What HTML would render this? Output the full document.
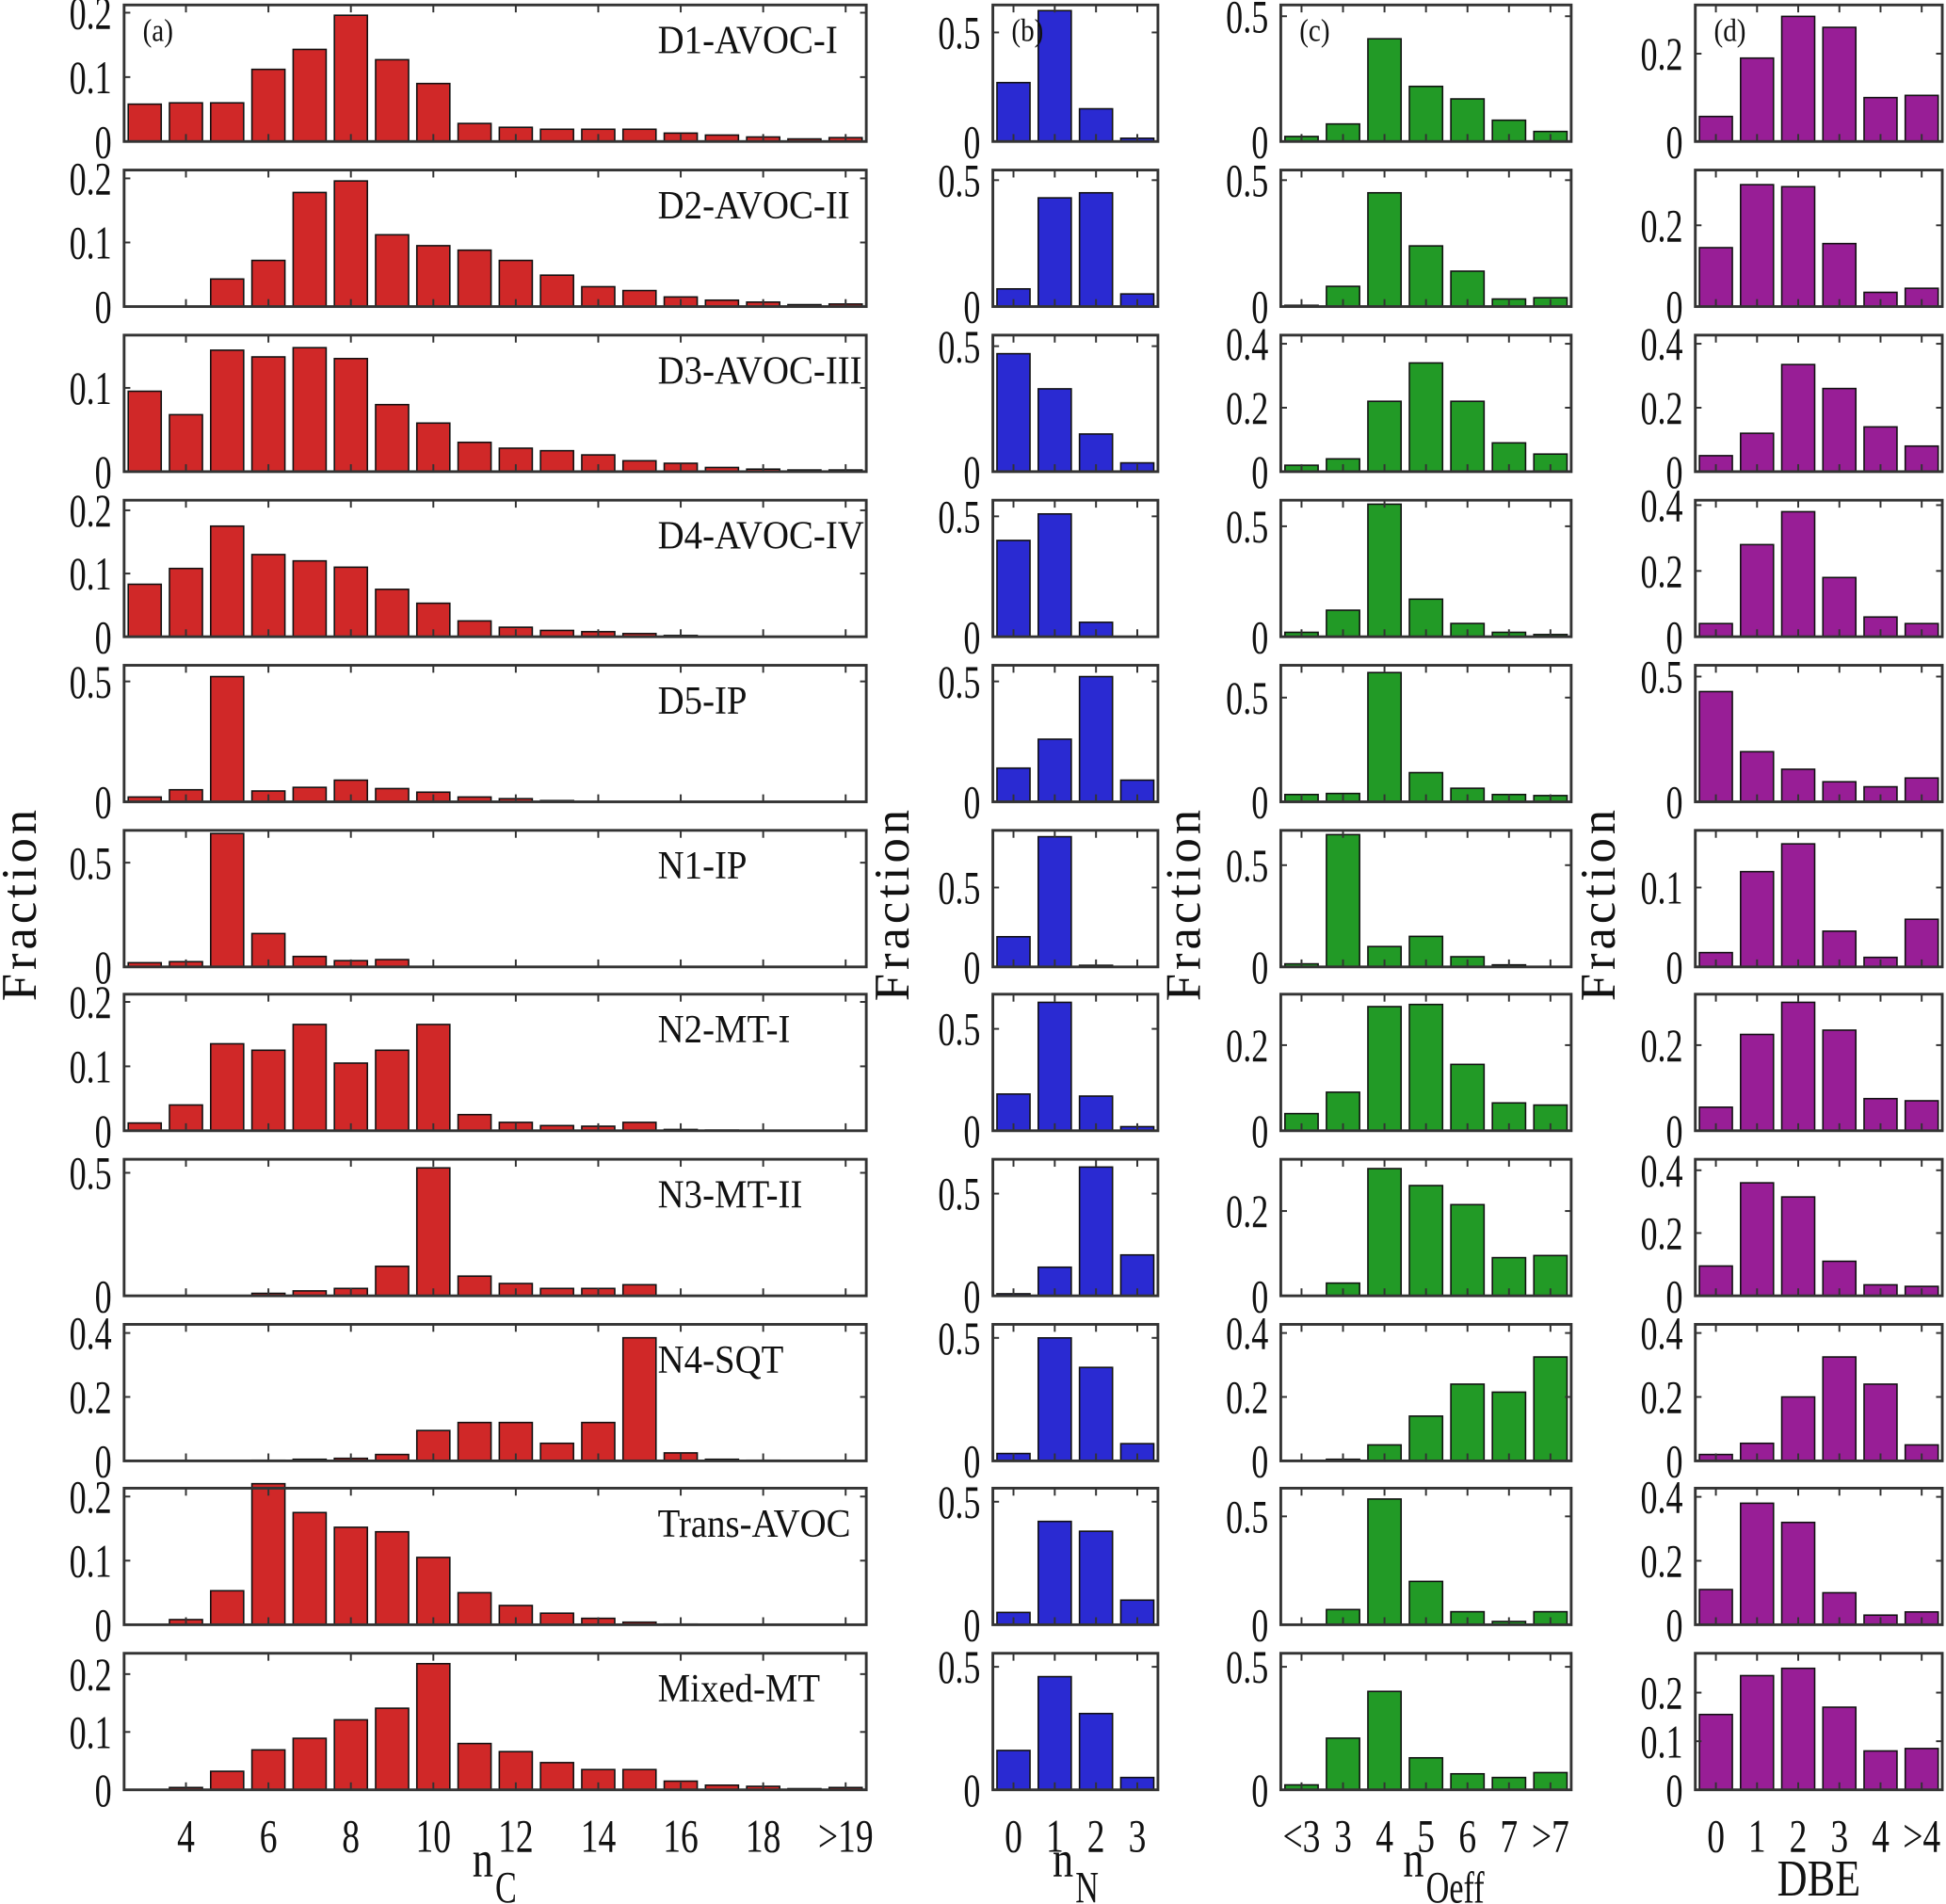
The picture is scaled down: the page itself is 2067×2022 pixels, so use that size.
<!DOCTYPE html>
<html><head><meta charset="utf-8"><title>Fraction distributions</title>
<style>
html,body{margin:0;padding:0;background:#fff;}
svg{display:block;}
text{font-family:"Liberation Serif",serif;fill:#111;}
</style></head>
<body>
<svg id="fig" width="2067" height="2022" viewBox="0 0 1568 1534" preserveAspectRatio="none" xmlns="http://www.w3.org/2000/svg"></svg>
<script>
// ---------- data ----------
const factorNames = ["D1-AVOC-I","D2-AVOC-II","D3-AVOC-III","D4-AVOC-IV","D5-IP","N1-IP","N2-MT-I","N3-MT-II","N4-SQT","Trans-AVOC","Mixed-MT"];
const nCCategories = [3,4,5,6,7,8,9,10,11,12,13,14,15,16,17,18,19,20];
const nCTickLabels = ["4","6","8","10","12","14","16","18",">19"];
const nNTickLabels = ["0","1","2","3"];
const nOTickLabels = ["<3","3","4","5","6","7",">7"];
const dbeTickLabels = ["0","1","2","3","4",">4"];

const nCValues = [
 [0.058,0.06,0.06,0.112,0.143,0.196,0.127,0.09,0.028,0.022,0.019,0.019,0.019,0.013,0.01,0.007,0.004,0.006],
 [0,0,0.043,0.072,0.178,0.196,0.112,0.095,0.088,0.072,0.049,0.031,0.025,0.015,0.01,0.007,0.003,0.004],
 [0.096,0.068,0.145,0.137,0.148,0.135,0.08,0.058,0.035,0.028,0.025,0.02,0.013,0.01,0.005,0.003,0.002,0.002],
 [0.083,0.108,0.175,0.13,0.12,0.11,0.075,0.053,0.025,0.015,0.01,0.008,0.005,0.002,0,0,0,0],
 [0.02,0.05,0.52,0.045,0.06,0.09,0.055,0.04,0.02,0.013,0.005,0,0,0,0,0,0,0],
 [0.02,0.025,0.64,0.16,0.05,0.03,0.035,0,0,0,0,0,0,0,0,0,0,0],
 [0.012,0.04,0.135,0.125,0.165,0.105,0.125,0.165,0.025,0.013,0.008,0.007,0.013,0.002,0.001,0,0,0],
 [0,0,0,0.01,0.02,0.03,0.12,0.52,0.08,0.05,0.03,0.03,0.045,0,0,0,0,0],
 [0,0,0,0.002,0.005,0.008,0.02,0.095,0.12,0.12,0.055,0.12,0.385,0.025,0.005,0.002,0,0],
 [0,0.008,0.053,0.22,0.175,0.152,0.145,0.105,0.05,0.03,0.018,0.01,0.004,0.001,0,0,0,0],
 [0,0.004,0.032,0.069,0.089,0.121,0.141,0.218,0.08,0.066,0.047,0.035,0.035,0.015,0.008,0.006,0.002,0.004]
];
const nNValues = [
 [0.27,0.6,0.15,0.015],[0.07,0.43,0.45,0.05],[0.47,0.33,0.15,0.035],[0.4,0.51,0.06,0],
 [0.14,0.26,0.52,0.09],[0.19,0.82,0.01,0],[0.18,0.63,0.17,0.02],[0.01,0.14,0.63,0.2],
 [0.03,0.5,0.38,0.07],[0.05,0.42,0.38,0.1],[0.16,0.46,0.31,0.05]
];
const nOValues = [
 [0.02,0.07,0.41,0.22,0.17,0.085,0.04],[0.005,0.08,0.45,0.24,0.14,0.03,0.035],
 [0.02,0.04,0.22,0.34,0.22,0.09,0.055],[0.02,0.12,0.6,0.17,0.06,0.02,0.01],
 [0.035,0.04,0.62,0.14,0.065,0.035,0.03],[0.015,0.65,0.1,0.15,0.05,0.01,0],
 [0.04,0.09,0.29,0.295,0.155,0.065,0.06],[0,0.03,0.3,0.26,0.215,0.09,0.095],
 [0,0.005,0.05,0.14,0.24,0.215,0.325],[0,0.07,0.58,0.2,0.06,0.015,0.06],
 [0.02,0.21,0.4,0.13,0.065,0.05,0.07]
];
const dbeValues = [
 [0.057,0.19,0.285,0.26,0.1,0.105],[0.145,0.3,0.295,0.155,0.035,0.045],
 [0.05,0.12,0.335,0.26,0.14,0.08],[0.04,0.28,0.38,0.18,0.06,0.04],
 [0.44,0.2,0.13,0.08,0.06,0.095],[0.018,0.12,0.155,0.045,0.012,0.06],
 [0.055,0.225,0.3,0.235,0.075,0.07],[0.095,0.36,0.315,0.11,0.035,0.03],
 [0.02,0.055,0.2,0.325,0.24,0.05],[0.11,0.38,0.32,0.1,0.03,0.04],
 [0.155,0.235,0.25,0.17,0.08,0.085]
];
// y-axis limits and tick values per row, per column
const yMaxA = [0.212,0.213,0.163,0.216,0.567,0.655,0.212,0.555,0.427,0.213,0.236];
const yMaxB = [0.626,0.54,0.544,0.567,0.567,0.86,0.67,0.668,0.555,0.555,0.555];
const yMaxC = [0.545,0.54,0.427,0.618,0.655,0.671,0.319,0.322,0.427,0.63,0.555];
const yMaxD = [0.311,0.336,0.427,0.415,0.545,0.172,0.319,0.435,0.427,0.427,0.281];
const yTicksA = [[0,0.1,0.2],[0,0.1,0.2],[0,0.1],[0,0.1,0.2],[0,0.5],[0,0.5],[0,0.1,0.2],[0,0.5],[0,0.2,0.4],[0,0.1,0.2],[0,0.1,0.2]];
const yTicksB = [[0,0.5],[0,0.5],[0,0.5],[0,0.5],[0,0.5],[0,0.5],[0,0.5],[0,0.5],[0,0.5],[0,0.5],[0,0.5]];
const yTicksC = [[0,0.5],[0,0.5],[0,0.2,0.4],[0,0.5],[0,0.5],[0,0.5],[0,0.2],[0,0.2],[0,0.2,0.4],[0,0.5],[0,0.5]];
const yTicksD = [[0,0.2],[0,0.2],[0,0.2,0.4],[0,0.2,0.4],[0,0.5],[0,0.1],[0,0.2],[0,0.2,0.4],[0,0.2,0.4],[0,0.2,0.4],[0,0.1,0.2]];

// ---------- layout ----------
const NS = "http://www.w3.org/2000/svg";
const svg = document.getElementById("fig");
const rowTops = [4,137,270,403,536,669,801,934,1067,1199,1332];
const rowH = 110;
const cols = [
 {key:"a", x0:100, x1:698, xmin:2.5, xmax:20.5, color:"#d02828", values:nCValues, ymax:yMaxA, yt:yTicksA, ticksX:[4,6,8,10,12,14,16,18,20], tl:nCTickLabels, cats:nCCategories, title:"n", sub:"C", fracX:15},
 {key:"b", x0:800, x1:933, xmin:-0.5, xmax:3.5, color:"#2a2ad2", values:nNValues, ymax:yMaxB, yt:yTicksB, ticksX:[0,1,2,3], tl:nNTickLabels, cats:[0,1,2,3], title:"n", sub:"N", fracX:718},
 {key:"c", x0:1032, x1:1266, xmin:0.5, xmax:7.5, color:"#229a26", values:nOValues, ymax:yMaxC, yt:yTicksC, ticksX:[1,2,3,4,5,6,7], tl:nOTickLabels, cats:[1,2,3,4,5,6,7], title:"n", sub:"Oeff", fracX:953},
 {key:"d", x0:1366, x1:1565, xmin:-0.5, xmax:5.5, color:"#981e96", values:dbeValues, ymax:yMaxD, yt:yTicksD, ticksX:[0,1,2,3,4,5], tl:dbeTickLabels, cats:[0,1,2,3,4,5], title:"DBE", sub:"", fracX:1287}
];
function el(tag, attrs, parent){
  const e = document.createElementNS(NS, tag);
  for (const k in attrs) e.setAttribute(k, attrs[k]);
  (parent||svg).appendChild(e);
  return e;
}
function fmt(v){ return v===0 ? "0" : String(v); }

cols.forEach((c, ci) => {
  const xs = v => c.x0 + (v - c.xmin) / (c.xmax - c.xmin) * (c.x1 - c.x0);
  const unit = (c.x1 - c.x0) / (c.xmax - c.xmin);
  rowTops.forEach((top, ri) => {
    const bot = top + rowH;
    const ymax = c.ymax[ri];
    const ys = v => bot - v / ymax * rowH;
    const g = el("g", {});
    
    
    c.values[ri].forEach((v, i) => {
      if (v <= 0) return;
      const cx = xs(c.cats[i]);
      const w = unit * 0.8;
      const r = el("rect", {x:cx - w/2, y:ys(v), width:w, height:bot - ys(v), fill:c.color, stroke:"#111", "stroke-width":1.2}, g);
      
      
    });
    const fr = el("rect", {x:c.x0, y:top, width:c.x1 - c.x0, height:rowH, fill:"none", stroke:"#333", "stroke-width":2.2}, g);
    
    
    c.ticksX.forEach(t => {
      const x = xs(t);
      el("line", {x1:x, x2:x, y1:bot, y2:bot - 6, stroke:"#333", "stroke-width":1.5}, g);
      el("line", {x1:x, x2:x, y1:top, y2:top + 6, stroke:"#333", "stroke-width":1.5}, g);
    });
    c.yt[ri].forEach(t => {
      const y = ys(t);
      el("line", {x1:c.x0, x2:c.x0 + 5, y1:y, y2:y, stroke:"#333", "stroke-width":1.5}, g);
      el("line", {x1:c.x1, x2:c.x1 - 5, y1:y, y2:y, stroke:"#333", "stroke-width":1.5}, g);
      const tx = el("text", {x:0, y:0, "font-size":38, "text-anchor":"end", transform:`translate(${c.x0 - 10},${y + 13}) scale(0.72,1)`}, g);
      tx.textContent = fmt(t);
      
      
    });
    if (ci === 0) {
      const lab = el("text", {x:0, y:0, "font-size":32, transform:`translate(530,${top + 39}) scale(0.92,1)`}, g);
      lab.textContent = factorNames[ri];
      
      
    }
    if (ri === 0) {
      const pl = el("text", {x:0, y:0, "font-size":26, transform:`translate(${c.x0 + 15},${top + 29}) scale(0.85,1)`}, g);
      pl.textContent = "(" + c.key + ")";
      
      
    }
    if (ri === rowTops.length - 1) {
      c.ticksX.forEach((t, i) => {
        const tx = el("text", {x:0, y:0, "font-size":38, "text-anchor":"middle", transform:`translate(${xs(t)},${bot + 50}) scale(0.75,1)`}, g);
        tx.textContent = c.tl[i];
        
        
      });
    }
  });
  const mid = (c.x0 + c.x1) / 2;
  const t = el("text", {x:0, y:0, "font-size":42, "text-anchor":"middle", transform:`translate(${c.sub ? mid - 10 : mid},${c.sub ? 1512 : 1527}) scale(0.8,1)`});
  
  
  t.textContent = c.title;
  if (c.sub) {
    const s = el("text", {x:0, y:0, "font-size":36, "text-anchor":"start", transform:`translate(${mid},${1533}) scale(0.72,1)`});
    
    
    s.textContent = c.sub;
  }
  const f = el("text", {x:0, y:0, "font-size":40, "text-anchor":"middle", "letter-spacing":"3", transform:`translate(${c.fracX + 14},728) rotate(-90)`});
  
  
  f.textContent = "Fraction";
});
</script>
</body></html>
